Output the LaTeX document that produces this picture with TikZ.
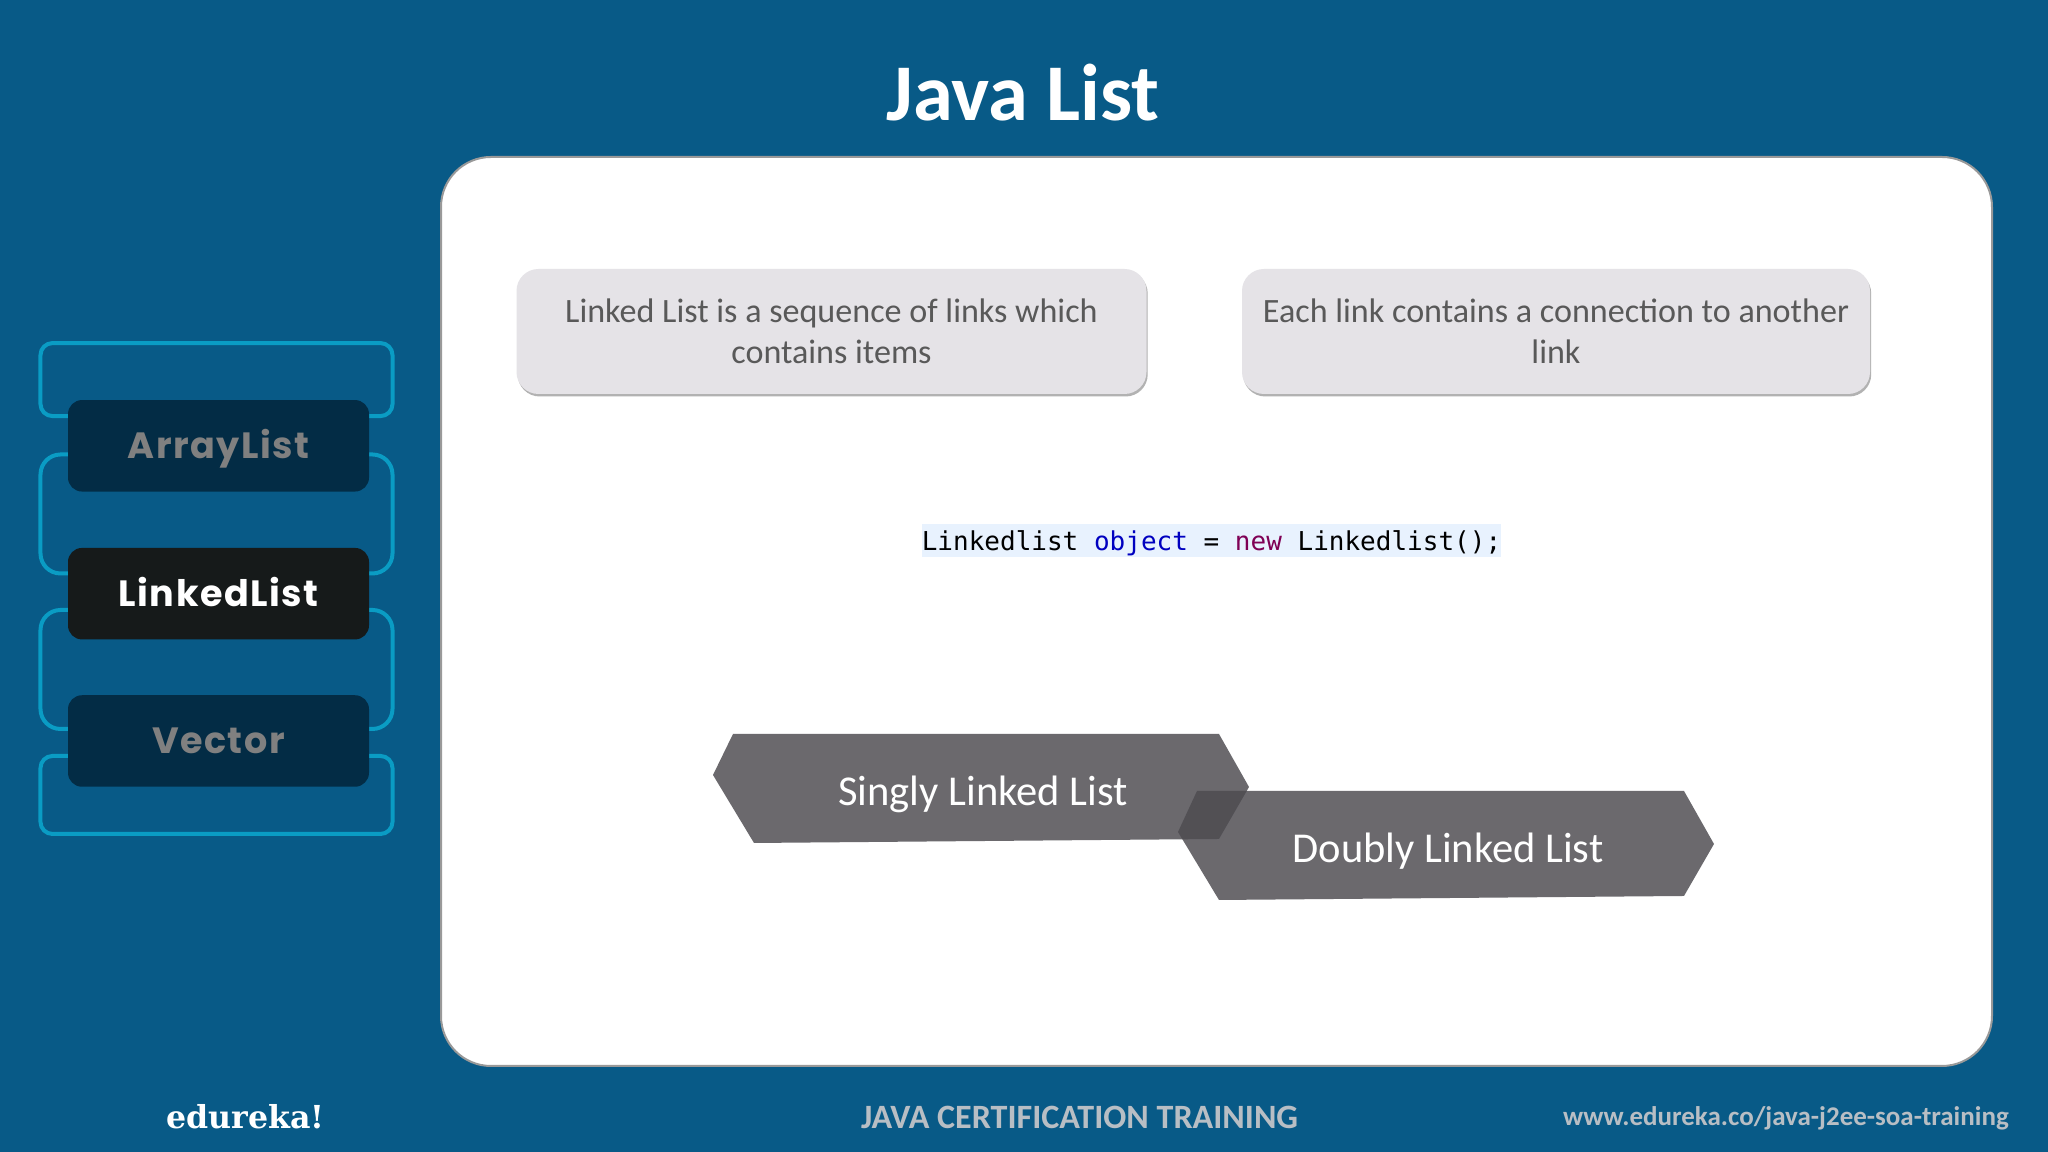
\documentclass[tikz,border=0pt]{standalone}
\usepackage{fontspec}
\setmainfont{Carlito}
\newfontfamily\listfont[LetterSpace=4.0]{Poppins}
\newfontfamily\codefont{DejaVu Sans Mono}
\newfontfamily\logofont{DejaVu Serif}
\usetikzlibrary{shadows}
\definecolor{slidebg}{HTML}{085A87}
\definecolor{framecol}{HTML}{0A9CC4}
\definecolor{itemdark}{HTML}{032C45}
\definecolor{itemactive}{HTML}{161A1A}
\definecolor{itemgray}{HTML}{808080}
\definecolor{notefill}{HTML}{E5E3E7}
\definecolor{notetext}{HTML}{595959}
\definecolor{codebg}{HTML}{E8F2FE}
\definecolor{codeblue}{HTML}{0000C0}
\definecolor{codenew}{HTML}{7F0055}
\definecolor{hexfill}{HTML}{4D4B50}
\definecolor{footgray}{HTML}{B8BEC4}
\tikzset{
  itemframe/.style={draw=framecol, line width=0.04cm, minimum width=3.52cm, inner sep=0pt},
  itembox/.style={rounded corners=0.14cm, minimum width=3.01cm, minimum height=0.915cm, inner sep=0pt,
    text height=7.3pt, text depth=0pt,
    font=\listfont\bfseries\fontsize{10.4}{12}\selectfont},
  notebox/.style={fill=notefill, text=notetext, rounded corners=0.22cm, minimum height=1.25cm, inner sep=0pt,
    align=center, font=\fontsize{9.7}{11.6}\selectfont,
    general shadow={shadow xshift=0.012cm, shadow yshift=-0.025cm, fill=black!30}},
  hexshape/.style={fill=hexfill, fill opacity=0.83},
  hexlabel/.style={text=white, inner sep=0pt, font=\fontsize{12.1}{14}\selectfont},
  footlabel/.style={text=footgray, inner sep=0pt, font=\bfseries\fontsize{9.7}{11}\selectfont}
}
\begin{document}
\begin{tikzpicture}
  % background
  \fill[slidebg] (0, 0) rectangle (20.48, 11.52);
  \useasboundingbox (0, 0) rectangle (20.48, 11.52);

  \node[text=white, inner sep=0pt, font=\bfseries\fontsize{22.9}{28}\selectfont] (title) at (10.23, 10.59) {Java List};
  \node[draw=black!40, fill=white, line width=0.02cm, rounded corners=0.5cm, minimum width=15.51cm, minimum height=9.09cm] (panel) at (12.165, 5.405) {};

  % left frames
  \node[itemframe, rounded corners=0.12cm, minimum height=0.73cm] (frameA) at (2.165, 7.724) {};
  \node[itemframe, rounded corners=0.2cm, minimum height=1.19cm] (frameB) at (2.165, 6.38) {};
  \node[itemframe, rounded corners=0.2cm, minimum height=1.19cm] (frameC) at (2.165, 4.825) {};
  \node[itemframe, rounded corners=0.12cm, minimum height=0.78cm] (frameD) at (2.165, 3.57) {};

  % list items
  \node[itembox, fill=itemdark, text=itemgray] (arraylist) at (2.185, 7.062) {ArrayList};
  \node[itembox, fill=itemactive, text=white] (linkedlist) at (2.185, 5.583) {LinkedList};
  \node[itembox, fill=itemdark, text=itemgray] (vector) at (2.185, 4.11) {Vector};

  % notes
  \node[notebox, minimum width=6.3cm] (noteA) at (8.315, 8.205) {Linked List is a sequence of links which\\contains items};
  \node[notebox, minimum width=6.28cm] (noteB) at (15.56, 8.205) {Each link contains a connection to another\\link};

  % code line
  \node[fill=codebg, inner sep=0pt, minimum width=5.785cm, minimum height=0.33cm, text depth=0pt, font=\codefont\fontsize{7.4}{9}\selectfont] (code) at (12.115, 6.115)
    {Linkedlist \textcolor{codeblue}{object} = \textcolor{codenew}{new} Linkedlist();};

  % list kinds
  \fill[hexshape] (7.33, 4.18) -- (12.19, 4.18) -- (12.49, 3.65) -- (12.19, 3.13) -- (7.54, 3.09) -- (7.13, 3.77) -- cycle;
  \fill[hexshape] (11.97, 3.61) -- (16.84, 3.61) -- (17.14, 3.08) -- (16.84, 2.56) -- (12.19, 2.52) -- (11.78, 3.20) -- cycle;
  \node[hexlabel] (singly) at (9.83, 3.58) {Singly Linked List};
  \node[hexlabel] (doubly) at (14.48, 3.01) {Doubly Linked List};

  % footer
  \node[text=white, inner sep=0pt, font=\logofont\bfseries\fontsize{9}{11}\selectfont] (logo) at (2.456, 0.35) {edureka!};
  \node[footlabel] (course) at (10.796, 0.35) {JAVA CERTIFICATION TRAINING};
  \node[footlabel, font=\bfseries\fontsize{7.68}{9}\selectfont] (url) at (17.86, 0.34) {www.edureka.co/java-j2ee-soa-training};
\end{tikzpicture}
\end{document}
